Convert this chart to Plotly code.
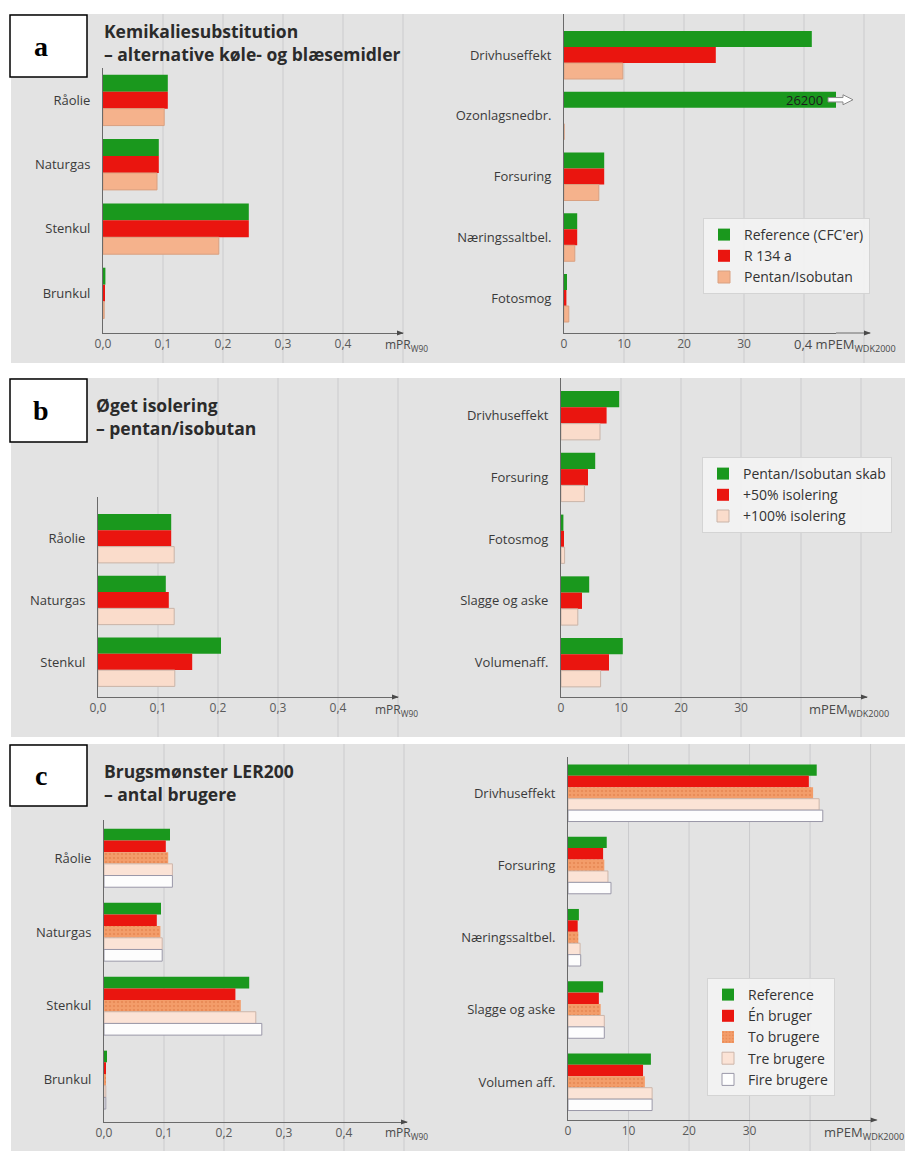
import plotly.graph_objects as go

W, H = 905, 1151

# ---------------- data ----------------
# Panel a: chemical substitution
fuel_a = ["Råolie", "Naturgas", "Stenkul", "Brunkul"]
a_ref_fuel = [0.108, 0.093, 0.243, 0.004]
a_r134_fuel = [0.108, 0.093, 0.243, 0.003]
a_pentan_fuel = [0.102, 0.090, 0.193, 0.002]

impact_a = ["Drivhuseffekt", "Ozonlagsnedbr.", "Forsuring", "Næringssaltbel.", "Fotosmog"]
a_ref_imp = [41.3, 26200, 6.7, 2.2, 0.5]
a_r134_imp = [25.3, 0, 6.7, 2.2, 0.4]
a_pentan_imp = [9.8, 0, 5.8, 1.8, 0.8]
a_names = ["Reference (CFC'er)", "R 134 a", "Pentan/Isobutan"]

# Panel b: increased insulation
fuel_b = ["Råolie", "Naturgas", "Stenkul"]
b_base_fuel = [0.122, 0.113, 0.205]
b_50_fuel = [0.122, 0.118, 0.157]
b_100_fuel = [0.127, 0.127, 0.128]

impact_b = ["Drivhuseffekt", "Forsuring", "Fotosmog", "Slagge og aske", "Volumenaff."]
b_base_imp = [9.7, 5.7, 0.4, 4.7, 10.3]
b_50_imp = [7.6, 4.5, 0.5, 3.5, 8.0]
b_100_imp = [6.5, 3.9, 0.6, 2.8, 6.6]
b_names = ["Pentan/Isobutan skab", "+50% isolering", "+100% isolering"]

# Panel c: usage pattern, number of users
fuel_c = ["Råolie", "Naturgas", "Stenkul", "Brunkul"]
c_ref_fuel = [0.110, 0.095, 0.242, 0.005]
c_one_fuel = [0.103, 0.088, 0.219, 0.003]
c_two_fuel = [0.107, 0.094, 0.228, 0.003]
c_three_fuel = [0.114, 0.097, 0.253, 0.003]
c_four_fuel = [0.114, 0.097, 0.263, 0.003]

impact_c = ["Drivhuseffekt", "Forsuring", "Næringssaltbel.", "Slagge og aske", "Volumen aff."]
c_ref_imp = [41.1, 6.4, 1.8, 5.8, 13.7]
c_one_imp = [39.8, 5.8, 1.6, 5.1, 12.4]
c_two_imp = [40.5, 6.0, 1.7, 5.4, 12.7]
c_three_imp = [41.5, 6.6, 2.0, 6.0, 13.9]
c_four_imp = [42.1, 7.1, 2.1, 6.0, 13.9]
c_names = ["Reference", "Én bruger", "To brugere", "Tre brugere", "Fire brugere"]

left_tickvals = [0, 0.1, 0.2, 0.3, 0.4]
left_ticktext = ["0,0", "0,1", "0,2", "0,3", "0,4"]
left_grid = [0.1, 0.2, 0.3, 0.4, 0.5]
right_tickvals = [0, 10, 20, 30]
right_ticktext = ["0", "10", "20", "30"]
right_grid = [10, 20, 30, 40, 50]

# ---------------- styling ----------------
FONT = "Open Sans"
GREEN = "#1a981d"
RED = "#ea150f"
SALMON = "#f5b28c"
PEACH = "#fadccb"
ORANGE = "#f39d6a"
PALE = "#fbe3d6"
WHITE = "#fdfdfd"
PANEL_BG = "#e3e3e3"
GRID = "#cbcbcd"
AXIS = "#6a6a6a"
BARGAP = 0.21


def px_x(p):
    return p / W


def px_y(p):
    return 1 - p / H


class Sub:
    def __init__(self, n, xpx, xr, ypx, yr, cats, tv, tt):
        self.n = n
        self.xpx, self.xr, self.ypx, self.yr = xpx, xr, ypx, yr
        self.cats, self.tv, self.tt = cats, tv, tt
        s = "" if n == 1 else str(n)
        self.xref, self.yref = "x" + s, "y" + s
        self.xkey, self.ykey = "xaxis" + s, "yaxis" + s

    def xpix(self, v):
        x0, x1 = self.xpx
        return x0 + (v - self.xr[0]) / (self.xr[1] - self.xr[0]) * (x1 - x0)

    def ypix(self, v):
        y0, y1 = self.ypx
        bottom, top = self.yr
        return y0 + (v - top) / (bottom - top) * (y1 - y0)


subs = {
    "a_l": Sub(1, (103, 403), (0, 0.5), (68, 333), (3.62, -0.5), fuel_a, left_tickvals, left_ticktext),
    "a_r": Sub(2, (564, 836), (0, 272 / 6), (14, 333), (4.576, -0.675), impact_a, right_tickvals, right_ticktext),
    "b_l": Sub(3, (98, 398), (0, 0.5), (497, 697), (2.567, -0.672), fuel_b, left_tickvals, left_ticktext),
    "b_r": Sub(4, (561, 867), (0, 51), (378, 697), (4.559, -0.607), impact_b, right_tickvals, right_ticktext),
    "c_l": Sub(5, (104, 407), (0, 0.505), (820, 1122), (3.57, -0.514), fuel_c, left_tickvals, left_ticktext),
    "c_r": Sub(6, (568, 873), (0, 50.4), (757, 1120), (4.526, -0.498), impact_c, right_tickvals, right_ticktext),
}

panels = [(14, 363, "a"), (378, 737, "b"), (744, 1151, "c")]

fig = go.Figure()


def add_bar(sub, vals, name, color, legend, show, line_color=None, pattern=None):
    marker = dict(color=color,
                  line=dict(width=1 if line_color else 0, color=line_color or color))
    if pattern:
        marker["pattern"] = pattern
    fig.add_trace(go.Bar(
        x=vals, y=sub.cats, orientation="h", name=name,
        xaxis=sub.xref, yaxis=sub.yref, marker=marker,
        legend=legend, showlegend=show, hoverinfo="skip",
    ))


# panel a
for sub, show in ((subs["a_l"], False), (subs["a_r"], True)):
    vals = (a_ref_fuel, a_r134_fuel, a_pentan_fuel) if not show else (a_ref_imp, a_r134_imp, a_pentan_imp)
    add_bar(sub, vals[0], a_names[0], GREEN, "legend", show)
    add_bar(sub, vals[1], a_names[1], RED, "legend", show)
    add_bar(sub, vals[2], a_names[2], SALMON, "legend", show, line_color="#d9a080")

# panel b
for sub, show in ((subs["b_l"], False), (subs["b_r"], True)):
    vals = (b_base_fuel, b_50_fuel, b_100_fuel) if not show else (b_base_imp, b_50_imp, b_100_imp)
    add_bar(sub, vals[0], b_names[0], GREEN, "legend2", show)
    add_bar(sub, vals[1], b_names[1], RED, "legend2", show)
    add_bar(sub, vals[2], b_names[2], PEACH, "legend2", show, line_color="#c9b4a8")

# panel c
dots = dict(shape=".", fillmode="overlay", fgcolor="#de7a45", size=4, solidity=0.3)
for sub, show in ((subs["c_l"], False), (subs["c_r"], True)):
    if show:
        vals = (c_ref_imp, c_one_imp, c_two_imp, c_three_imp, c_four_imp)
    else:
        vals = (c_ref_fuel, c_one_fuel, c_two_fuel, c_three_fuel, c_four_fuel)
    add_bar(sub, vals[0], c_names[0], GREEN, "legend3", show)
    add_bar(sub, vals[1], c_names[1], RED, "legend3", show)
    add_bar(sub, vals[2], c_names[2], ORANGE, "legend3", show, pattern=dots)
    add_bar(sub, vals[3], c_names[3], PALE, "legend3", show, line_color="#cdb6aa")
    add_bar(sub, vals[4], c_names[4], WHITE, "legend3", show, line_color="#9a98a8")

layout = dict(
    width=W, height=H, margin=dict(l=0, r=0, t=0, b=0, autoexpand=False),
    paper_bgcolor="white", plot_bgcolor="rgba(0,0,0,0)",
    barmode="group", bargap=BARGAP, bargroupgap=0,
    font=dict(family=FONT, color="#333333", size=13),
    shapes=[], annotations=[],
)

for sub in subs.values():
    layout[sub.xkey] = dict(
        domain=[px_x(sub.xpx[0]), px_x(sub.xpx[1])], range=list(sub.xr),
        anchor=sub.yref, tickvals=sub.tv, ticktext=sub.tt, ticks="",
        showline=True, linecolor=AXIS, linewidth=1, showgrid=False, zeroline=False,
        tickfont=dict(size=12, color="#5a5a5a"), fixedrange=True, automargin=False,
    )
    layout[sub.ykey] = dict(
        domain=[px_y(sub.ypx[1]), px_y(sub.ypx[0])], range=list(sub.yr),
        anchor=sub.xref, type="category", categoryorder="array", categoryarray=sub.cats,
        ticks="", showline=True, linecolor=AXIS, linewidth=1, showgrid=False,
        zeroline=False, tickfont=dict(size=13, color="#3a3a3a"),
        ticklabelstandoff=9, fixedrange=True, automargin=False,
    )

shapes = layout["shapes"]
ann = layout["annotations"]

# panel backgrounds
for top, bot, _ in panels:
    shapes.append(dict(type="rect", xref="paper", yref="paper", layer="below",
                       x0=px_x(11), x1=px_x(905), y0=px_y(bot), y1=px_y(top),
                       fillcolor=PANEL_BG, line=dict(width=0)))

# full-height grid lines for each panel
panel_of = {"a_l": 0, "a_r": 0, "b_l": 1, "b_r": 1, "c_l": 2, "c_r": 2}
for key, sub in subs.items():
    top, bot, _ = panels[panel_of[key]]
    grid = left_grid if key.endswith("_l") else right_grid
    for v in grid:
        gx = px_x(sub.xpix(v))
        shapes.append(dict(type="line", xref="paper", yref="paper", layer="below",
                           x0=gx, x1=gx, y0=px_y(bot), y1=px_y(top),
                           line=dict(color=GRID, width=1)))


def poly(points):
    return "M " + " L ".join(f"{px_x(x):.5f},{px_y(y):.5f}" for x, y in points) + " Z"


# x-axis extension past the clipped range in panel a (right) + arrow tips
for key, sub in subs.items():
    end_val = 0.5 if key.endswith("_l") else 51
    end_px = max(sub.xpix(end_val), sub.xpx[1])
    ya = sub.ypx[1]
    if end_px > sub.xpx[1] + 0.5:
        shapes.append(dict(type="line", xref="paper", yref="paper",
                           x0=px_x(sub.xpx[1]), x1=px_x(end_px), y0=px_y(ya), y1=px_y(ya),
                           line=dict(color=AXIS, width=1)))
    shapes.append(dict(type="path", xref="paper", yref="paper",
                       path=poly([(end_px - 6, ya - 2.6), (end_px + 1, ya), (end_px - 6, ya + 2.6)]),
                       fillcolor="#4a4a4a", line=dict(width=0)))

# off-scale ozone bar: value label and outlined arrow
sub = subs["a_r"]
bar_w = (1 - BARGAP) / 3
oz_pos = impact_a.index("Ozonlagsnedbr.") - bar_w
ann.append(dict(x=1, y=oz_pos, xref=sub.xref + " domain", yref=sub.yref,
                text=f"{a_ref_imp[1]}", showarrow=False, xanchor="right", xshift=-11,
                font=dict(size=13, color="#1c1c1c")))
yc = sub.ypix(oz_pos)
xe = sub.xpx[1]
shapes.append(dict(type="path", xref="paper", yref="paper",
                   path=poly([(xe - 8, yc - 2.2), (xe + 7, yc - 2.2), (xe + 7, yc - 5),
                              (xe + 17, yc), (xe + 7, yc + 5), (xe + 7, yc + 2.2),
                              (xe - 8, yc + 2.2)]),
                   fillcolor="white", line=dict(color="#8a8a8a", width=1)))

# unit labels at the end of each x axis
units = [
    (383, 345, "mPR<sub>W90</sub>", 12),
    (792, 345, "0,4 mPEM<sub>WDK2000</sub>", 13),
    (373, 710, "mPR<sub>W90</sub>", 12),
    (807, 710, "mPEM<sub>WDK2000</sub>", 13),
    (383, 1133, "mPR<sub>W90</sub>", 12),
    (822, 1133, "mPEM<sub>WDK2000</sub>", 13),
]
for x, y, t, s in units:
    ann.append(dict(x=px_x(x), y=px_y(y), xref="paper", yref="paper", text=t,
                    showarrow=False, xanchor="left", yanchor="middle",
                    font=dict(size=s, color="#4a4a4a")))

# panel titles
titles = [
    (102, 17, "<b>Kemikaliesubstitution<br>– alternative køle- og blæsemidler</b>"),
    (94, 391, "<b>Øget isolering<br>– pentan/isobutan</b>"),
    (102, 757, "<b>Brugsmønster LER200<br>– antal brugere</b>"),
]
for x, y, t in titles:
    ann.append(dict(x=px_x(x), y=px_y(y), xref="paper", yref="paper", text=t,
                    showarrow=False, xanchor="left", yanchor="top", align="left",
                    font=dict(size=17.5, color="#2b2b2b", family=FONT)))

# panel letter boxes
boxes = [((10, 15, 87, 77), "a"), ((10, 379, 87, 442), "b"), ((10, 745, 87, 806), "c")]
for (x0, y0, x1, y1), letter in boxes:
    shapes.append(dict(type="rect", xref="paper", yref="paper",
                       x0=px_x(x0), x1=px_x(x1), y0=px_y(y1), y1=px_y(y0),
                       fillcolor="white", line=dict(color="black", width=1.5)))
    ann.append(dict(x=px_x(41), y=px_y((y0 + y1) / 2), xref="paper", yref="paper",
                    text=f"<b>{letter}</b>", showarrow=False, xanchor="center", yanchor="middle",
                    font=dict(size=28, color="black", family="Liberation Serif")))

legend_style = dict(xanchor="left", yanchor="top", bgcolor="rgba(242,242,242,0.95)",
                    bordercolor="#d4d4d4", borderwidth=1, traceorder="normal",
                    font=dict(size=14, color="#333333", family=FONT))
layout["legend"] = dict(x=px_x(703), y=px_y(218), **legend_style)
layout["legend2"] = dict(x=px_x(702), y=px_y(457), **legend_style)
layout["legend3"] = dict(x=px_x(707), y=px_y(978), **legend_style)

fig.update_layout(**layout)
fig.write_html("out.html")
